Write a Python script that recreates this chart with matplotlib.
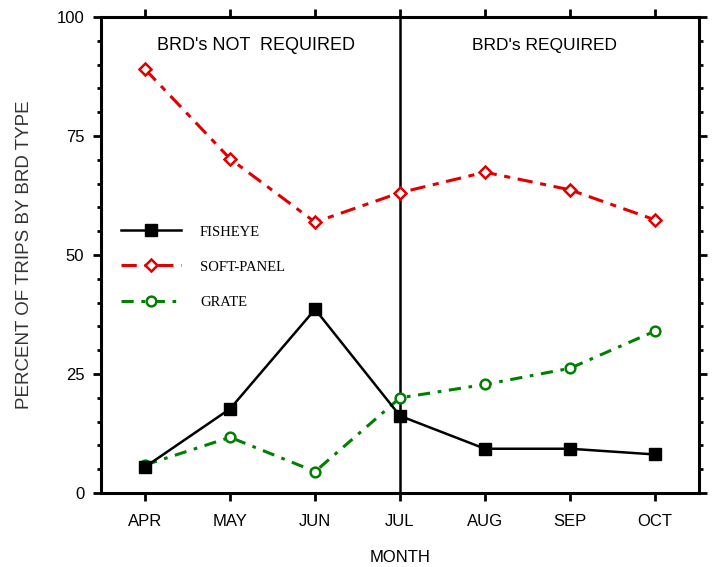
import numpy as np
import matplotlib
matplotlib.use("Agg")
import matplotlib.pyplot as plt
from matplotlib.ticker import MultipleLocator

# datos
meses = ["APR", "MAY", "JUN", "JUL", "AUG", "SEP", "OCT"]
fisheye = [5.5, 17.7, 38.6, 16.2, 9.3, 9.3, 8.1]
soft_panel = [89.0, 70.2, 56.9, 63.1, 67.4, 63.7, 57.4]
grate = [5.9, 11.7, 4.5, 20.0, 22.8, 26.2, 34.0]

plt.rcParams['font.family'] = ['Liberation Sans', 'DejaVu Sans']

f = plt.figure(figsize=(7.14, 5.67), dpi=100)
ax = f.add_axes([0.1415, 0.1305, 0.8375, 0.8395])

x = np.arange(len(meses))

ax.plot(x, fisheye, color='black', lw=1.8, marker='s', ms=8,
        mfc='black', mec='black', label='FISHEYE', zorder=4)
ax.plot(x, soft_panel, color='#e00000', lw=2.2, dashes=(5, 2.5, 2, 2.5),
        marker='D', ms=6.5, mfc='white', mec='#e00000', mew=1.8,
        label='SOFT-PANEL', zorder=3)
ax.plot(x, grate, color='#008000', lw=2.2, dashes=(4, 2.5, 1.2, 2.5),
        marker='o', ms=7, mfc='white', mec='#008000', mew=1.8,
        label='GRATE', zorder=3)

# linea vertical que separa los periodos
ax.axvline(3, color='black', lw=1.8, zorder=2)

ax.text(1.3, 94, "BRD's NOT  REQUIRED", ha='center', va='center', fontsize=13)
ax.text(4.7, 94, "BRD's REQUIRED", ha='center', va='center', fontsize=12.5)

ax.set_xlim(-0.52, 6.52)
ax.set_ylim(0, 100)
ax.set_xticks(x)
ax.set_xticklabels(meses)
ax.set_yticks([0, 25, 50, 75, 100])
ax.yaxis.set_minor_locator(MultipleLocator(5))

ax.tick_params(axis='both', which='major', direction='out', length=6,
               width=2, labelsize=12, top=True, right=True, pad=6)
ax.tick_params(axis='y', which='minor', direction='out', length=3,
               width=2, right=True)
ax.tick_params(axis='x', which='major', pad=9)
for s in ax.spines.values():
    s.set_linewidth(2.2)

ax.set_xlabel('MONTH', fontsize=12, labelpad=15)
ax.set_ylabel('PERCENT OF TRIPS BY BRD TYPE', fontsize=13.5, labelpad=17,
              color='#333333')

leg = ax.legend(loc='upper left', bbox_to_anchor=(0.012, 0.59), frameon=False,
                prop={'family': 'Liberation Serif', 'size': 10.5},
                handlelength=4.1, handletextpad=1.3, labelspacing=1.5)

f.savefig('out.png', dpi=100)
plt.close('all')
